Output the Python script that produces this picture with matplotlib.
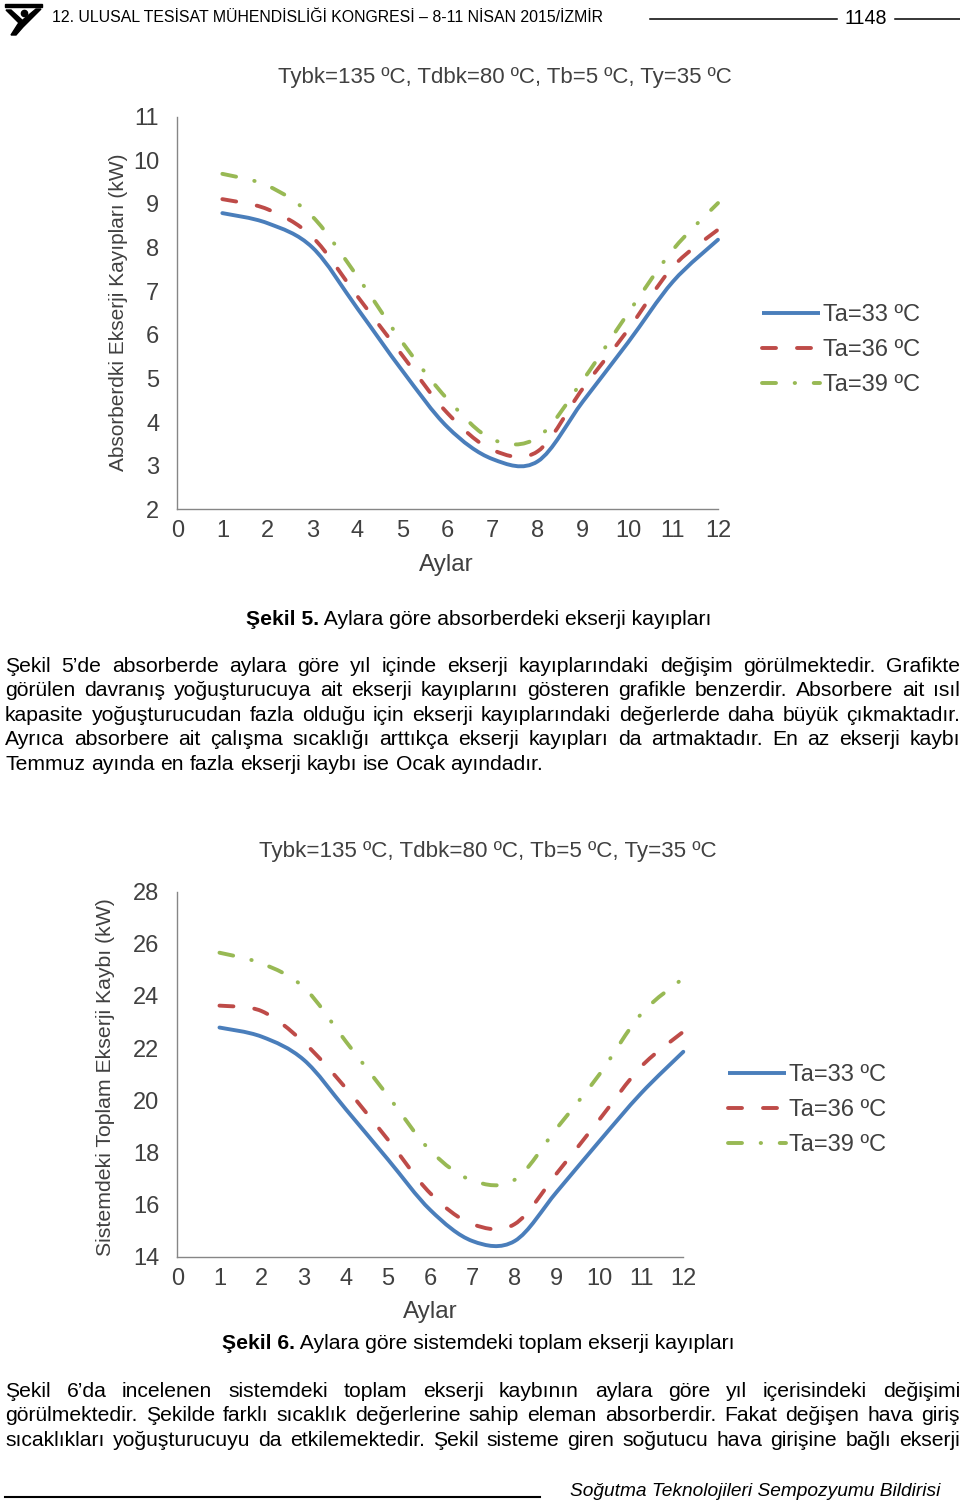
import matplotlib
matplotlib.use("Agg")
import matplotlib.pyplot as plt
from matplotlib.path import Path
from matplotlib.patches import PathPatch, Rectangle, Polygon
from matplotlib.lines import Line2D
import numpy as np

# ---------------- data ----------------
months = [1, 2, 3, 4, 5, 6, 7, 8, 9, 10, 11, 12]
x_ticks = list(range(0, 13))

absorber_ta33 = [8.79, 8.56, 8.00, 6.60, 5.17, 3.88, 3.15, 3.10, 4.47, 5.82, 7.22, 8.18]
absorber_ta36 = [9.11, 8.88, 8.24, 6.88, 5.52, 4.20, 3.36, 3.33, 4.77, 6.11, 7.56, 8.41]
absorber_ta39 = [9.69, 9.42, 8.71, 7.33, 5.82, 4.52, 3.60, 3.65, 4.96, 6.49, 7.95, 9.02]
absorber_yticks = [2, 3, 4, 5, 6, 7, 8, 9, 10, 11]

system_ta33 = [22.79, 22.44, 21.55, 19.65, 17.72, 15.79, 14.60, 14.60, 16.49, 18.41, 20.27, 21.86]
system_ta36 = [23.63, 23.42, 22.22, 20.46, 18.48, 16.43, 15.25, 15.25, 17.20, 19.24, 21.29, 22.63]
system_ta39 = [25.66, 25.25, 24.33, 22.25, 20.16, 18.07, 16.92, 16.95, 18.93, 20.97, 23.31, 24.68]
system_yticks = [14, 16, 18, 20, 22, 24, 26, 28]

series_labels = ["Ta=33 ºC", "Ta=36 ºC", "Ta=39 ºC"]
chart_title = "Tybk=135 ºC, Tdbk=80 ºC, Tb=5 ºC, Ty=35 ºC"
xlabel_text = "Aylar"
ylabel_abs = "Absorberdki Ekserji Kayıpları (kW)"
ylabel_sys = "Sistemdeki Toplam Ekserji Kaybı (kW)"

header_text = "12. ULUSAL TESİSAT MÜHENDİSLİĞİ KONGRESİ – 8-11 NİSAN 2015/İZMİR"
page_no = "1148"
footer_text = "Soğutma Teknolojileri Sempozyumu Bildirisi"
caption5 = ("Şekil 5.", " Aylara göre absorberdeki ekserji kayıpları")
caption6 = ("Şekil 6.", " Aylara göre sistemdeki toplam ekserji kayıpları")
para1 = [
    "Şekil 5’de absorberde aylara göre yıl içinde ekserji kayıplarındaki değişim görülmektedir. Grafikte",
    "görülen davranış yoğuşturucuya ait ekserji kayıplarını gösteren grafikle benzerdir. Absorbere ait ısıl",
    "kapasite yoğuşturucudan fazla olduğu için ekserji kayıplarındaki değerlerde daha büyük çıkmaktadır.",
    "Ayrıca absorbere ait çalışma sıcaklığı arttıkça ekserji kayıpları da artmaktadır. En az ekserji kaybı",
    "Temmuz ayında en fazla ekserji kaybı ise Ocak ayındadır.",
]
para2 = [
    "Şekil 6’da incelenen sistemdeki toplam ekserji kaybının aylara göre yıl içerisindeki değişimi",
    "görülmektedir. Şekilde farklı sıcaklık değerlerine sahip eleman absorberdir. Fakat değişen hava giriş",
    "sıcaklıkları yoğuşturucuyu da etkilemektedir. Şekil sisteme giren soğutucu hava girişine bağlı ekserji",
]

# ---------------- styles ----------------
W, H = 960, 1507
fig = plt.figure(figsize=(W / 100, H / 100), dpi=100)
fig.patch.set_facecolor("white")
renderer = fig.canvas.get_renderer()

NARROW = ["Liberation Sans Narrow", "Liberation Sans", "DejaVu Sans"]
SANS = ["Liberation Sans", "DejaVu Sans"]
CHART_TXT = "#404040"
AXIS_COL = "#868686"
LW = 2.8
colors = ["#4A7EBB", "#BE4B48", "#98B954"]
styles = ["-", (0, (3.6, 5.4)), (0, (3.6, 4.8, 0.1, 4.8))]


def fx(x):
    return x / W


def fy(y):
    return 1 - y / H


def fit_text(x, y, s, target, axis="w", size0=12, **kw):
    t = fig.text(fx(x), fy(y), s, fontsize=size0, **kw)
    bb = t.get_window_extent(renderer)
    meas = bb.width if axis == "w" else bb.height
    t.set_fontsize(size0 * target / meas)
    return t


def smooth_path(xs, ys):
    P = np.column_stack([xs, ys]).astype(float)
    n = len(P)
    verts = [P[0]]
    codes = [Path.MOVETO]
    for i in range(n - 1):
        p0 = P[i - 1] if i > 0 else P[i]
        p1, p2 = P[i], P[i + 1]
        p3 = P[i + 2] if i + 2 < n else P[i + 1]
        verts += [p1 + (p2 - p0) / 6, p2 - (p3 - p1) / 6, p2]
        codes += [Path.CURVE4] * 3
    return Path(verts, codes)


def make_chart(rect_px, ylim, yticks, data, ylabel, ylab_center, ylab_len,
               title_center, title_w, xlab_center, legend_anchor):
    l, t, r, b = rect_px
    ax = fig.add_axes([fx(l), fy(b), fx(r - l), (b - t) / H])
    ax.set_xlim(0, 12)
    ax.set_ylim(*ylim)
    ax.set_facecolor("none")
    for s in ["top", "right"]:
        ax.spines[s].set_visible(False)
    for s in ["left", "bottom"]:
        ax.spines[s].set_color(AXIS_COL)
        ax.spines[s].set_linewidth(1.0)
    ax.set_xticks(x_ticks)
    ax.set_xticklabels([str(v) for v in x_ticks], fontfamily=NARROW,
                       fontsize=17, color=CHART_TXT)
    ax.set_yticks(yticks)
    ax.set_yticklabels([str(v) for v in yticks], fontfamily=NARROW,
                       fontsize=17, color=CHART_TXT)
    ax.tick_params(axis="both", length=0)
    ax.tick_params(axis="y", pad=13)
    ax.tick_params(axis="x", pad=8)

    handles = []
    for vals, c, ls, lab in zip(data, colors, styles, series_labels):
        patch = PathPatch(smooth_path(months, vals), fill=False, edgecolor=c,
                          linewidth=LW, linestyle=ls, capstyle="round",
                          joinstyle="round", clip_on=False)
        ax.add_patch(patch)
        handles.append(Line2D([], [], color=c, lw=LW, linestyle=ls,
                              dash_capstyle="round", solid_capstyle="butt",
                              label=lab))

    ylab = ax.set_ylabel(ylabel, fontsize=12, fontfamily=NARROW, color=CHART_TXT,
                         ha="center", va="center")
    meas = ylab.get_window_extent(renderer).height
    ylab.set_fontsize(12 * ylab_len / meas)
    ax.yaxis.set_label_coords(fx(ylab_center[0]), fy(ylab_center[1]),
                              transform=fig.transFigure)
    ax.set_xlabel(xlabel_text, fontsize=17.5, fontfamily=NARROW,
                  color=CHART_TXT, ha="center", va="center")
    ax.xaxis.set_label_coords(fx(xlab_center[0]), fy(xlab_center[1]),
                              transform=fig.transFigure)

    fit_text(title_center[0], title_center[1], chart_title, title_w,
             family=NARROW, color=CHART_TXT, ha="center", va="center")

    ax.legend(handles=handles, loc="center left",
              bbox_to_anchor=(fx(legend_anchor[0]), fy(legend_anchor[1])),
              bbox_transform=fig.transFigure, frameon=False,
              prop={"family": NARROW, "size": 17}, handlelength=2.45,
              handletextpad=0.12, labelspacing=0.56, borderpad=0,
              borderaxespad=0, labelcolor=CHART_TXT)
    return ax


# ---------------- chart 1 ----------------
make_chart((177.3, 116.7, 718, 509.3), (2, 11), absorber_yticks,
           [absorber_ta33, absorber_ta36, absorber_ta39], ylabel_abs,
           (119, 312), 320, (505, 78), 455, (446, 565), (762, 350))

# ---------------- chart 2 ----------------
make_chart((177.3, 891.7, 683.3, 1256.7), (14, 28), system_yticks,
           [system_ta33, system_ta36, system_ta39], ylabel_sys,
           (106, 1077), 359, (488, 852), 456, (430, 1312), (728, 1110))

# ---------------- page text ----------------
fit_text(52, 17, header_text, 553, family=NARROW, ha="left", va="center")
fit_text(866, 19, page_no, 42, family=NARROW, ha="center", va="center")
for x0, x1 in [(650, 837), (895, 960)]:
    fig.add_artist(Line2D([fx(x0), fx(x1)], [fy(19), fy(19)], color="black",
                          lw=1.1, transform=fig.transFigure))

# logo
fig.add_artist(Rectangle((fx(5), fy(7)), fx(37), 3.5 / H, color="black",
                         transform=fig.transFigure))
fig.add_artist(Polygon([(fx(6), fy(10)), (fx(11), fy(10)), (fx(22), fy(20)),
                        (fx(19), fy(23))], closed=True, color="black",
                       transform=fig.transFigure))
fig.add_artist(Polygon([(fx(36), fy(9)), (fx(41), fy(9)), (fx(23), fy(27)),
                        (fx(16), fy(35)), (fx(11), fy(35)), (fx(18), fy(24))],
                       closed=True, color="black", transform=fig.transFigure))
fig.add_artist(Line2D([fx(23.5)], [fy(13)], marker="o", ms=4.5, color="black",
                      transform=fig.transFigure))

# footer
fig.add_artist(Line2D([fx(5), fx(540)], [fy(1497), fy(1497)], color="black",
                      lw=1.5, transform=fig.transFigure))
fit_text(570, 1492, footer_text, 370, family=NARROW, style="italic",
         ha="left", va="center")

# body text
probe = fig.text(0, 0, para1[-1], fontsize=12, family=SANS)
body_size = 12 * 540 / probe.get_window_extent(renderer).width
probe.remove()
space_px = body_size * 0.278 / 72 * 100


def justify(line, yc, last=False, x0=5, x1=960):
    words = line.split(" ")
    ts = [fig.text(0, fy(yc + 6), w, fontsize=body_size, family=SANS,
                   ha="left", va="baseline") for w in words]
    widths = [t.get_window_extent(renderer).width for t in ts]
    gap = space_px if last else (x1 - x0 - sum(widths)) / (len(words) - 1)
    x = x0
    for t, w in zip(ts, widths):
        t.set_x(fx(x))
        x += w + gap


def caption(parts, yc, xc=481.5):
    tb = fig.text(0, fy(yc + 6), parts[0], fontsize=body_size, family=SANS,
                  weight="bold", ha="left", va="baseline")
    tr = fig.text(0, fy(yc + 6), parts[1], fontsize=body_size, family=SANS,
                  ha="left", va="baseline")
    wb = tb.get_window_extent(renderer).width
    wr = tr.get_window_extent(renderer).width
    total = wb + space_px + wr
    start = xc - total / 2
    tb.set_x(fx(start))
    tr.set_x(fx(start + wb))


caption(caption5, 619)
for i, (line, yc) in enumerate(zip(para1, [666, 690, 715, 739, 764])):
    justify(line, yc, last=(i == len(para1) - 1))

caption(caption6, 1343)
for line, yc in zip(para2, [1391, 1415, 1440]):
    justify(line, yc)

fig.savefig("out.png", dpi=100, facecolor="white")
